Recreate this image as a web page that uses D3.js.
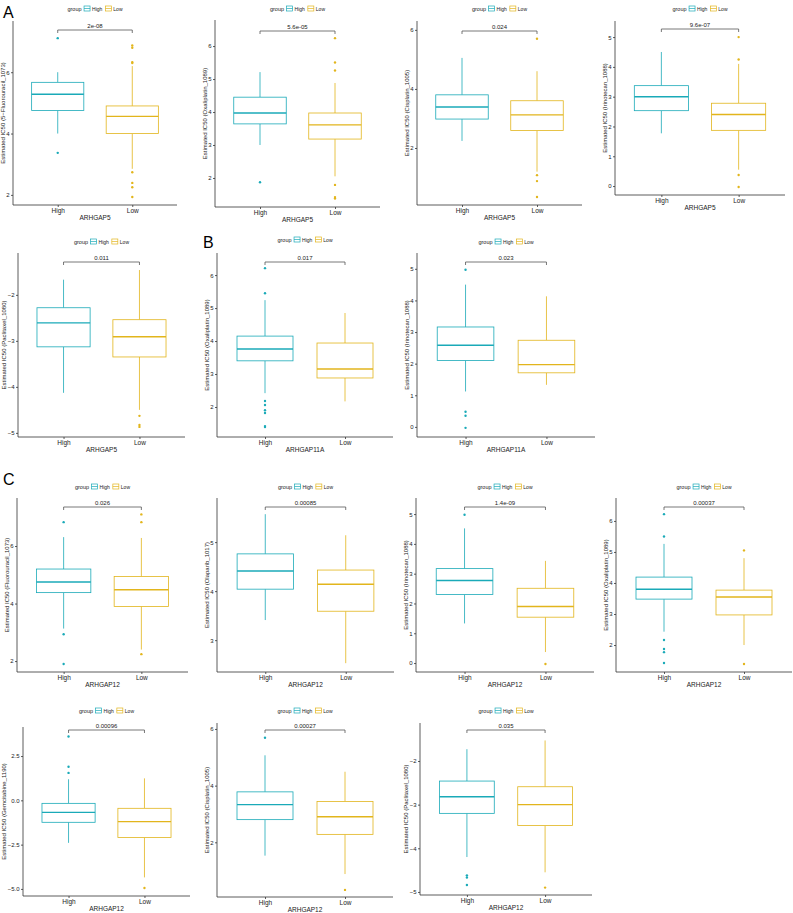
<!DOCTYPE html>
<html>
<head>
<meta charset="utf-8">
<script src="https://cdn.jsdelivr.net/npm/d3@7"></script>
<style>
  body { margin: 0; background: #fff; }
  svg { font-family: "Liberation Sans", Arial, sans-serif; }
</style>
</head>
<body>
<svg id="fig" width="793" height="913"></svg>
<script>
// ---- data ----
var groups = ["High", "Low"];
var groupColors = ["#1AAAB8", "#E2B51C"];

var panelGenes = ["ARHGAP5", "ARHGAP5", "ARHGAP5", "ARHGAP5", "ARHGAP5",
  "ARHGAP11A", "ARHGAP11A",
  "ARHGAP12", "ARHGAP12", "ARHGAP12", "ARHGAP12", "ARHGAP12", "ARHGAP12", "ARHGAP12"];

var panelDrugs = ["5\u2212Fluorouracil_1073", "Oxaliplatin_1089", "Cisplatin_1005", "Irinotecan_1088",
  "Paclitaxel_1080", "Oxaliplatin_1089", "Irinotecan_1088",
  "Fluorouracil_1073", "Olaparib_1017", "Irinotecan_1088", "Oxaliplatin_1089",
  "Gemcitabine_1190", "Cisplatin_1005", "Paclitaxel_1080"];

var pLabels = ["2e-08", "5.6e-05", "0.024", "9.6e-07", "0.011", "0.017", "0.023",
  "0.026", "0.00085", "1.4e-09", "0.00037", "0.00096", "0.00027", "0.035"];

var yLimits = [[1.67, 7.67], [1.12, 6.79], [0.07, 6.3], [-0.3, 5.54], [-5.09, -1.09],
  [1.09, 6.67], [-0.32, 5.5], [1.62, 7.67], [2.35, 5.9], [-0.3, 5.54], [1.13, 6.74],
  [-5.4, 4.14], [0.07, 6.21], [-5.07, -1.13]];

var yTicks = [[2, 4, 6], [2, 3, 4, 5, 6], [2, 4, 6], [0, 1, 2, 3, 4, 5], [-5, -4, -3, -2],
  [2, 3, 4, 5, 6], [0, 1, 2, 3, 4, 5], [2, 4, 6], [3, 4, 5], [0, 1, 2, 3, 4, 5],
  [2, 3, 4, 5, 6], [-5, -2.5, 0, 2.5], [2, 4, 6], [-5, -4, -3, -2]];

// [lower whisker, Q1, median, Q3, upper whisker]
var highStats = [
  [4.0, 4.75, 5.28, 5.67, 6.0], [3.0, 3.64, 3.97, 4.45, 5.21], [2.24, 2.98, 3.39, 3.8, 5.05],
  [1.77, 2.53, 3.0, 3.37, 4.5], [-4.13, -3.13, -2.61, -2.28, -1.67], [2.42, 3.4, 3.76, 4.15, 5.24],
  [1.12, 2.1, 2.58, 3.16, 4.5], [3.13, 4.38, 4.75, 5.2, 6.31], [3.41, 4.04, 4.41, 4.76, 5.57],
  [1.33, 2.3, 2.77, 3.17, 4.52], [2.43, 3.48, 3.8, 4.19, 5.26], [-2.4, -1.24, -0.68, -0.17, 1.19],
  [1.53, 2.8, 3.33, 3.78, 5.07], [-4.2, -3.2, -2.82, -2.46, -1.73]];

var lowStats = [
  [2.85, 4.0, 4.56, 4.9, 6.2], [2.05, 3.18, 3.61, 3.97, 4.88], [1.2, 2.59, 3.12, 3.6, 4.6],
  [0.55, 1.87, 2.4, 2.78, 4.1], [-4.5, -3.35, -2.91, -2.54, -1.46], [2.17, 2.88, 3.15, 3.94, 4.85],
  [1.33, 1.71, 1.97, 2.74, 4.13], [2.4, 3.9, 4.48, 4.94, 6.28], [2.53, 3.59, 4.14, 4.43, 5.14],
  [0.37, 1.54, 1.9, 2.51, 3.43], [2.0, 2.97, 3.55, 3.77, 4.8], [-4.35, -2.1, -1.2, -0.45, 1.24],
  [0.88, 2.28, 2.9, 3.44, 4.49], [-4.55, -3.48, -3.0, -2.59, -1.53]];

var highOutliers = [[7.11, 3.37], [1.87], [], [], [], [6.21, 5.45, 2.18, 2.06, 1.9, 1.82, 1.42, 1.39],
  [4.97, 0.48, 0.35, -0.03], [6.83, 2.93, 1.9], [], [4.98], [6.22, 5.5, 2.16, 1.87, 1.77, 1.42],
  [3.6, 1.9, 1.55], [5.69], [-4.62, -4.67, -4.84]];

var lowOutliers = [[6.87, 6.8, 6.33, 6.3, 2.74, 2.39, 2.25, 1.93], [6.24, 5.5, 5.26, 1.79, 1.42, 1.38],
  [5.7, 1.08, 0.88, 0.34], [5.0, 4.25, 0.37, -0.03], [-4.63, -4.83, -4.87], [], [],
  [7.1, 6.83, 2.24], [], [-0.03], [5.05, 1.39], [-4.95], [0.32], [-4.9]];

// ---- layout: [left, top, right, bottom, bracketY, legendY] of each plot area ----
var layout = [
  [13, 21, 177, 205, 30, 9], [215, 20, 380, 207, 31, 9], [417, 21, 582, 205, 31, 9], [615, 21, 785, 195, 29, 9],
  [18, 253, 185, 437, 262, 242], [217, 253, 393, 437, 262, 240], [417, 253, 595, 437, 262, 242],
  [17, 498, 188, 672, 507, 487], [217, 498, 394, 672, 507, 487], [416, 498, 594, 672, 507, 487], [616, 498, 792, 672, 507, 487],
  [23, 727, 190, 896, 730, 711], [217, 723, 393, 897, 730, 711], [420, 723, 592, 895, 730, 711]];

var letters = [["A", 3, 18], ["B", 203, 248], ["C", 3, 485]];

var svg = d3.select("#fig");
var axisColor = "#333";

function drawPanel(i) {
    var L = layout[i];
    var left = L[0], top = L[1], right = L[2], bottom = L[3];
    var g = svg.append("g");

    var x = d3.scalePoint().domain(groups).range([left, right]).padding(0.6);
    var y = d3.scaleLinear().domain(yLimits[i]).range([bottom, top]);
    var boxW = x.step() * 0.7;
    var fmt = yTicks[i].some(function (t) { return t % 1 !== 0; }) ? d3.format(".1f") : d3.format("d");

    // y axis
    var yAxisG = g.append("g")
      .attr("transform", "translate(" + left + ",0)")
      .call(d3.axisLeft(y).tickValues(yTicks[i]).tickFormat(fmt).tickSize(2).tickPadding(1.5));
    yAxisG.select(".domain").attr("d", "M0," + top + "V" + bottom);

    // x axis
    var xAxisG = g.append("g")
      .attr("transform", "translate(0," + bottom + ")")
      .call(d3.axisBottom(x).tickSize(2).tickPadding(1.5));
    xAxisG.select(".domain").attr("d", "M" + left + ",0H" + right);

    [yAxisG, xAxisG].forEach(function (a) {
        a.selectAll("path, line").attr("stroke", axisColor).attr("stroke-width", 0.8);
        a.selectAll("text").attr("fill", "#222").style("font-size", "6px")
          .style("font-family", "Liberation Sans, Arial, sans-serif");
    });
    xAxisG.selectAll("text").style("font-size", "6.5px");

    // axis titles
    var yw = yAxisG.node().getBBox().width;
    g.append("text")
      .attr("transform", "translate(" + (left - yw - 1.5) + "," + ((top + bottom) / 2) + ") rotate(-90)")
      .attr("text-anchor", "middle")
      .style("font-size", "6px").attr("fill", "#222")
      .text("Estimated IC50 (" + panelDrugs[i] + ")");

    g.append("text")
      .attr("x", (left + right) / 2).attr("y", bottom + 14.5)
      .attr("text-anchor", "middle")
      .style("font-size", "6.5px").attr("fill", "#222")
      .text(panelGenes[i]);

    // boxes
    var stats = [highStats[i], lowStats[i]];
    var outs = [highOutliers[i], lowOutliers[i]];
    groups.forEach(function (grp, k) {
        var s = stats[k], c = groupColors[k], cx = x(grp);
        var bg = g.append("g");
        bg.append("line").attr("x1", cx).attr("x2", cx).attr("y1", y(s[3])).attr("y2", y(s[4]))
          .attr("stroke", c).attr("stroke-width", 0.8);
        bg.append("line").attr("x1", cx).attr("x2", cx).attr("y1", y(s[1])).attr("y2", y(s[0]))
          .attr("stroke", c).attr("stroke-width", 0.8);
        bg.append("rect").attr("x", cx - boxW / 2).attr("y", y(s[3]))
          .attr("width", boxW).attr("height", y(s[1]) - y(s[3]))
          .attr("fill", "#fff").attr("stroke", c).attr("stroke-width", 0.8);
        bg.append("line").attr("x1", cx - boxW / 2).attr("x2", cx + boxW / 2)
          .attr("y1", y(s[2])).attr("y2", y(s[2]))
          .attr("stroke", c).attr("stroke-width", 1.4);
        bg.selectAll("circle").data(outs[k]).enter().append("circle")
          .attr("cx", cx).attr("cy", function (d) { return y(d); })
          .attr("r", 1.2).attr("fill", c);
    });

    // significance bracket
    var by = L[4], x1 = x(groups[0]), x2 = x(groups[1]);
    g.append("path")
      .attr("d", "M" + x1 + "," + (by + 3) + "V" + by + "H" + x2 + "V" + (by + 3))
      .attr("fill", "none").attr("stroke", "#555").attr("stroke-width", 0.8);
    g.append("text")
      .attr("x", (x1 + x2) / 2).attr("y", by - 2)
      .attr("text-anchor", "middle")
      .style("font-size", "6px").attr("fill", "#222")
      .text(pLabels[i]);

    // legend
    var lg = g.append("g");
    var cursor = 0;
    var t0 = lg.append("text").attr("x", cursor).attr("y", 2).style("font-size", "5.5px").attr("fill", "#222").text("group");
    cursor += t0.node().getComputedTextLength() + 2.5;
    groups.forEach(function (grp, k) {
        var c = groupColors[k];
        lg.append("rect").attr("x", cursor).attr("y", -3).attr("width", 6).attr("height", 5)
          .attr("fill", "#fff").attr("stroke", c).attr("stroke-width", 0.7);
        lg.append("line").attr("x1", cursor).attr("x2", cursor + 6).attr("y1", -0.5).attr("y2", -0.5)
          .attr("stroke", c).attr("stroke-width", 0.7);
        cursor += 8;
        var t = lg.append("text").attr("x", cursor).attr("y", 2).style("font-size", "5px").attr("fill", "#222").text(grp);
        cursor += t.node().getComputedTextLength() + 3;
    });
    var lw = cursor - 3;
    lg.attr("transform", "translate(" + ((left + right) / 2 - lw / 2) + "," + L[5] + ")");
}

d3.range(layout.length).forEach(drawPanel);

svg.selectAll("text.letter").data(letters).enter().append("text")
  .attr("class", "letter")
  .attr("x", function (d) { return d[1]; })
  .attr("y", function (d) { return d[2]; })
  .style("font-size", "16px").attr("fill", "#000")
  .text(function (d) { return d[0]; });
</script>
</body>
</html>
